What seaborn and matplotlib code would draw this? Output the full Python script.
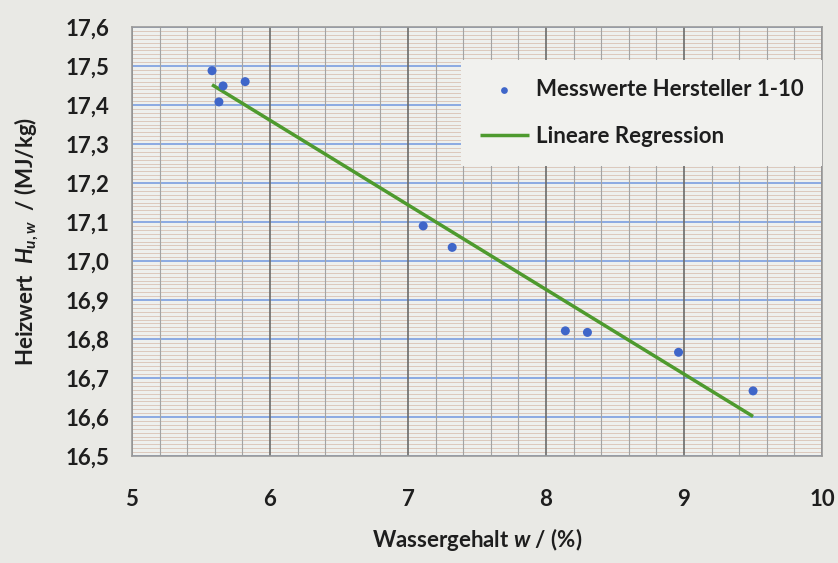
import numpy as np
import pandas as pd
import matplotlib
matplotlib.use("Agg")
import matplotlib.pyplot as plt
from matplotlib.ticker import MultipleLocator, FuncFormatter
import seaborn as sns

wassergehalt = [5.58, 5.66, 5.63, 5.82, 7.11, 7.32, 8.14, 8.30, 8.96, 9.50]
heizwert = [17.488, 17.449, 17.408, 17.460, 17.090, 17.035, 16.821, 16.817, 16.766, 16.667]

x_ticks = [5, 6, 7, 8, 9, 10]
y_ticks = [16.5, 16.6, 16.7, 16.8, 16.9, 17.0, 17.1, 17.2, 17.3, 17.4, 17.5, 17.6]

df = pd.DataFrame({"w": wassergehalt, "H": heizwert})

sns.set_style("white")
plt.rcParams["font.family"] = ["Lato", "DejaVu Sans"]
plt.rcParams["font.weight"] = "bold"
plt.rcParams["mathtext.fontset"] = "custom"
plt.rcParams["mathtext.it"] = "Lato:italic:bold"
plt.rcParams["mathtext.rm"] = "Lato:bold"

fig = plt.figure(figsize=(8.38, 5.63), dpi=100, facecolor="#e9e9e5")
ax = fig.add_axes([0.1575, 0.19, 0.8235, 0.762])
ax.set_facecolor("#eef0ee")

# regression line (range of data) and measured points
sns.regplot(data=df, x="w", y="H", ax=ax, scatter=False, ci=None,
            line_kws={"color": "#4e9a2e", "lw": 2.5, "solid_capstyle": "butt"},
            label="Lineare Regression")
sns.scatterplot(data=df, x="w", y="H", ax=ax, color="#3f66c9", s=42,
                edgecolor="none", label="Messwerte Hersteller 1-10", zorder=4)

ax.set_xlim(5, 10)
ax.set_ylim(16.5, 17.6)
ax.set_xticks(x_ticks)
ax.set_yticks(y_ticks)
ax.yaxis.set_major_formatter(FuncFormatter(lambda v, p: f"{v:.1f}".replace(".", ",")))
ax.xaxis.set_minor_locator(MultipleLocator(0.2))
ax.yaxis.set_minor_locator(MultipleLocator(0.01))

ax.grid(which="minor", axis="y", color="#dcc8bc", lw=0.7)
ax.grid(which="minor", axis="x", color="#a3a3a3", lw=0.8)
ax.grid(which="major", axis="y", color="#7097df", lw=1.1)
ax.grid(which="major", axis="x", color="#6b6b6b", lw=1.2)
ax.set_axisbelow(True)
# vertical grid drawn over the dense horizontal lines
ax.xaxis.set_zorder(0.6)

ax.tick_params(axis="both", which="both", length=0, labelsize=16, colors="#1e1e1e")
ax.tick_params(axis="x", pad=24)
ax.tick_params(axis="y", pad=16)
for s in ax.spines.values():
    s.set_color("#9a9a9a")
    s.set_linewidth(1.2)

ax.set_xlabel("Wassergehalt $w$ / (%)", fontsize=16, fontweight="bold",
              color="#1e1e1e", labelpad=11)
ax.set_ylabel("Heizwert  $H_{u,w}$  / (MJ/kg)", fontsize=16, fontweight="bold",
              color="#1e1e1e", labelpad=18)

handles, labels = ax.get_legend_handles_labels()
order = [labels.index("Messwerte Hersteller 1-10"), labels.index("Lineare Regression")]
leg = ax.legend([handles[i] for i in order], [labels[i] for i in order],
                loc="upper right", bbox_to_anchor=(1.0, 0.922), fontsize=16,
                frameon=True, facecolor="#f1f1ee", edgecolor="none", framealpha=1,
                borderpad=0.85, labelspacing=1.15, handlelength=2.2, handletextpad=0.3,
                borderaxespad=0, fancybox=False, markerscale=0.75)
for t in leg.get_texts():
    t.set_color("#1e1e1e")

fig.savefig("out.png", dpi=100, facecolor=fig.get_facecolor())
